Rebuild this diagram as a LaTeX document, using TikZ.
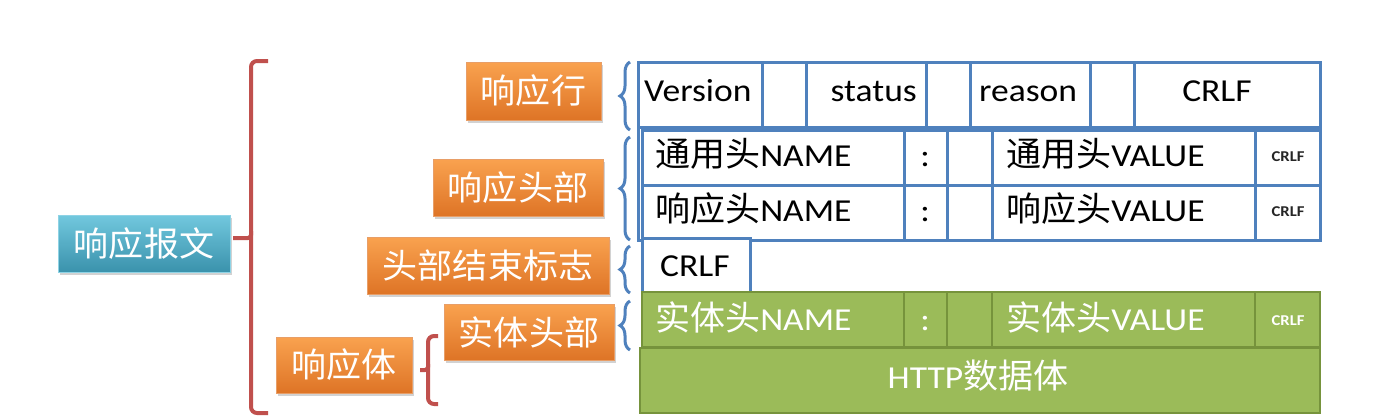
\documentclass[tikz,border=0pt]{standalone}
\usepackage{fontspec}
\setmainfont[FakeStretch=1.11]{Carlito}
\newfontfamily\cjkfont[FakeStretch=1.03]{Noto Sans CJK SC}
\usetikzlibrary{shadows,decorations.pathreplacing}
\definecolor{cellblue}{HTML}{4F81BD}
\definecolor{orangetop}{HTML}{F9A24F}
\definecolor{orangebot}{HTML}{DE7426}
\definecolor{tealtop}{HTML}{72C8DE}
\definecolor{tealbot}{HTML}{3A92AC}
\definecolor{greenfill}{HTML}{9BBB59}
\definecolor{greenline}{HTML}{76933C}
\definecolor{redline}{HTML}{C0504D}
\newcommand\zhtxt[1]{{\cjkfont\fontsize{34}{40}\selectfont #1}}
\newcommand\cellat[6]{%
  \node[#1, anchor=north west, minimum width={(#5)-(#3)}, minimum height={(#6)-(#4)}] (#2) at (#3,#4) {};}
\begin{document}
\begin{tikzpicture}[x=1pt,y=-1pt,
  tagbox/.style={inner sep=0pt, outer sep=0pt, text=white,
    font=\cjkfont\fontsize{34}{40}\selectfont,
    drop shadow={opacity=0.35, shadow xshift=2pt, shadow yshift=-3pt}},
  orangebox/.style={tagbox, top color=orangetop, bottom color=orangebot, draw=orangebot!70!white, line width=0.8pt},
  tealbox/.style={tagbox, top color=tealtop, bottom color=tealbot, draw=tealtop!80!white, line width=0.8pt},
  cell/.style={draw=cellblue, line width=3pt, fill=white, inner sep=0pt, outer sep=0pt},
  frame/.style={draw=cellblue, line width=3pt, inner sep=0pt, outer sep=0pt},
  gcell/.style={draw=greenline, line width=2.4pt, fill=greenfill, inner sep=0pt, outer sep=0pt},
  lat/.style={inner sep=0pt, font=\fontsize{32}{38}\selectfont, text=black},
  glat/.style={lat, text=white},
  small/.style={inner sep=0pt, font=\bfseries\fontsize{15}{18}\selectfont, text=black!85},
  bluebrace/.style={draw=cellblue, line width=3pt, decorate, decoration={brace, amplitude=10pt}},
  redbr/.style={draw=redline, line width=4pt, rounded corners=6pt}
]
\useasboundingbox[fill=white] (0,0) rectangle (1386,416);

% left-hand labels
\node[tealbox, minimum width=172, minimum height=57] (msg) at (144,243.5) {响应报文};
\node[orangebox, minimum width=135, minimum height=58] (line) at (533.5,91) {响应行};
\node[orangebox, minimum width=170, minimum height=57] (head) at (518,187.5) {响应头部};
\node[orangebox, minimum width=242, minimum height=57] (endmark) at (488,265.5) {头部结束标志};
\node[orangebox, minimum width=170, minimum height=56] (ehead) at (529,332) {实体头部};
\node[orangebox, minimum width=136, minimum height=56] (body) at (344,365) {响应体};

% red brackets
\coordinate (rtip) at (233,238);
\coordinate (btip) at (420,370);
\draw[redbr] (268,61) -- (251,61) -- (251,238) -- (251,413) -- (268,413);
\draw[redbr, rounded corners=3pt] (251,231) -- (251,238) -- (rtip);
\draw[redbr] (438,336) -- (428,336) -- (428,404) -- (438,404);
\draw[redbr, rounded corners=3pt] (428,364) -- (428,370) -- (btip);

% blue braces
\draw[bluebrace] (630,130) -- (630,62);
\draw[bluebrace] (630,240) -- (630,137);
\draw[bluebrace] (630,293) -- (630,246);
\draw[bluebrace] (630,350) -- (630,301);

% status line row
\cellat{cell}{c11}{638}{62}{762}{127}
\cellat{cell}{c12}{762}{62}{806}{127}
\cellat{cell}{c13}{806}{62}{926}{127}
\cellat{cell}{c14}{926}{62}{970}{127}
\cellat{cell}{c15}{970}{62}{1090}{127}
\cellat{cell}{c16}{1090}{62}{1134}{127}
\cellat{cell}{c17}{1134}{62}{1320}{127}
\cellat{frame}{hframe}{638}{62}{1320}{240}

% header rows
\cellat{cell}{c21}{642}{130}{904}{185}
\cellat{cell}{c22}{904}{130}{947}{185}
\cellat{cell}{c23}{947}{130}{992}{185}
\cellat{cell}{c24}{992}{130}{1255}{185}
\cellat{cell}{c25}{1255}{130}{1320}{185}
\cellat{cell}{c31}{642}{185}{904}{240}
\cellat{cell}{c32}{904}{185}{947}{240}
\cellat{cell}{c33}{947}{185}{992}{240}
\cellat{cell}{c34}{992}{185}{1255}{240}
\cellat{cell}{c35}{1255}{185}{1320}{240}

% end of header
\cellat{cell}{c41}{642}{238}{750}{292}

% entity rows
\cellat{gcell}{c51}{642}{292}{904}{347}
\cellat{gcell}{c52}{904}{292}{947}{347}
\cellat{gcell}{c53}{947}{292}{992}{347}
\cellat{gcell}{c54}{992}{292}{1255}{347}
\cellat{gcell}{c55}{1255}{292}{1320}{347}
\cellat{gcell}{c61}{640}{348}{1320}{413}

% texts
\node[lat, anchor=base west] (tver) at (644,101.5) {Version};
\node[lat, anchor=base east] (tsta) at (917,101.5) {status};
\node[lat, anchor=base west] (trea) at (979,101.5) {reason};
\node[lat, anchor=base] (tcr1) at (1217,101.5) {CRLF};

\node[lat, anchor=base west] (tn2) at (655,166.7) {\zhtxt{通用头}NAME};
\node[lat, anchor=base] (tc2) at (925,166.7) {:};
\node[lat, anchor=base west] (tv2) at (1006,166.7) {\zhtxt{通用头}VALUE};
\node[small, anchor=base] (tcr2) at (1288,161.7) {CRLF};

\node[lat, anchor=base west] (tn3) at (655,221.7) {\zhtxt{响应头}NAME};
\node[lat, anchor=base] (tc3) at (925,221.7) {:};
\node[lat, anchor=base west] (tv3) at (1006,221.7) {\zhtxt{响应头}VALUE};
\node[small, anchor=base] (tcr3) at (1288,216.7) {CRLF};

\node[lat, anchor=base west] (tcr4) at (660,276.7) {CRLF};

\node[glat, anchor=base west] (tn5) at (655,330) {\zhtxt{实体头}NAME};
\node[glat, anchor=base] (tc5) at (925,330) {:};
\node[glat, anchor=base west] (tv5) at (1006,330) {\zhtxt{实体头}VALUE};
\node[small, text=white, anchor=base] (tcr5) at (1288,325) {CRLF};

\node[glat, anchor=base] (thttp) at (978,388) {HTTP\zhtxt{数据体}};
\end{tikzpicture}
\end{document}
